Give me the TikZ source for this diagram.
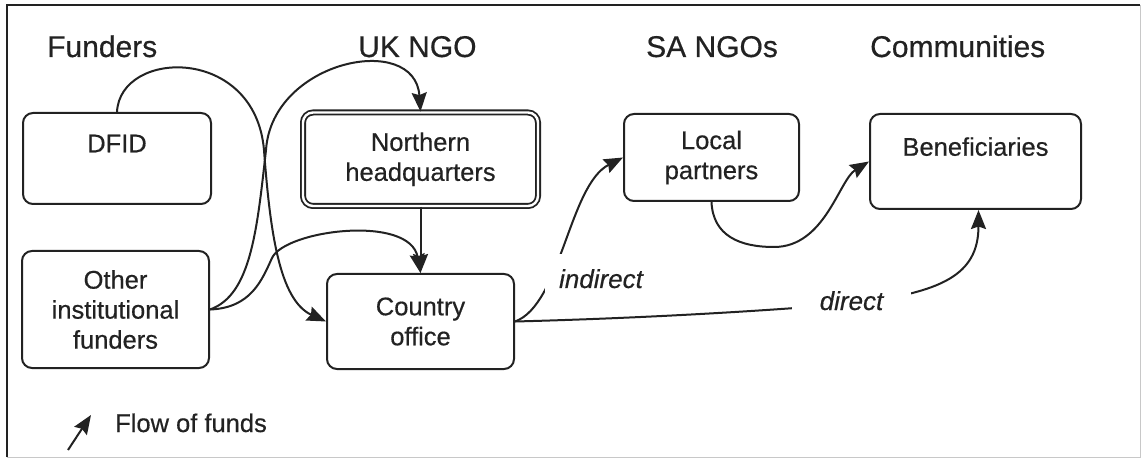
\documentclass[tikz,border=0pt]{standalone}
\usepackage{fontspec}
\setmainfont{Liberation Sans}[FakeBold=0.5]
\usetikzlibrary{arrows.meta}
\definecolor{ink}{HTML}{222222}
\definecolor{faint}{HTML}{C8C8C8}
\begin{document}
\begin{tikzpicture}[x=1pt,y=-1pt,
  box/.style={draw=ink, line width=2pt, rounded corners=10pt, align=center,
    inner sep=0pt, text=ink, font=\fontsize{25.5}{30}\selectfont},
  hqbox/.style={box, double=white, double distance=2.4pt, line width=1.8pt},
  header/.style={anchor=base west, inner sep=0pt, text=ink,
    font=\fontsize{30}{36}\selectfont},
  flowlabel/.style={anchor=base, fill=white, text=ink,
    font=\fontsize{26}{31}\selectfont\itshape},
  flow/.style={draw=ink, line width=2pt,
    -{Stealth[length=19pt,width=15pt,inset=2.5pt]}},
  framedark/.style={draw=ink, line width=1.8pt},
  framelight/.style={draw=faint, line width=1pt}]

\useasboundingbox (0,0) rectangle (1144,465);

% outer frame
\coordinate (ftl) at (7,5);
\coordinate (ftr) at (1140,5);
\coordinate (fbl) at (7,457);
\coordinate (fbr) at (1140,457);
\draw[framelight] (ftr) -- (fbr) -- (fbl);
\draw[framedark] (fbl) -- (ftl) -- (ftr);

% column headings
\node[header] (hfund)   at (47,57)  {Funders};
\node[header] (hukngo)  at (358,57) {UK NGO};
\node[header] (hsangos) at (646,57) {SA NGOs};
\node[header] (hcomm)   at (870,57) {Communities};

% organisations
\node[box, minimum width=188pt, minimum height=91pt] (dfid) at (117,158.5) {DFID\\\mbox{}};
\node[box, minimum width=187pt, minimum height=117pt] (oif) at (115.5,309.5) {Other\\institutional\\funders};
\node[hqbox, minimum width=235pt, minimum height=93.5pt] (nhq) at (420.5,159.25) {Northern\\headquarters};
\node[box, minimum width=187pt, minimum height=95pt] (co) at (420.5,321.5) {Country\\office};
\node[box, minimum width=175pt, minimum height=87pt] (lp) at (711.5,157.5) {Local\\partners};
\node[box, minimum width=211pt, minimum height=95pt] (ben) at (975.5,161.5) {Beneficiaries\\\mbox{}};

% way points of the crossing curves
\coordinate (dx) at (264,150);
\coordinate (ox) at (266,150);
\coordinate (ow) at (272,258);
\coordinate (dw) at (857,303);
\coordinate (lw) at (774,247);

% flows of funds
\draw[flow] (dfid.north) .. controls +(3,-63) and +(-9,-105) .. (dx)
  .. controls +(6,80) and +(-47,-21.5) .. (co.west);
\draw[flow] (oif.east) .. controls +(41,-14.5) and +(-9,80) .. (ox)
  .. controls +(6,-90) and +(-5.5,-80) .. (nhq.north);
\draw[flow] (oif.east) .. controls +(41,-1.5) and +(-10,22) .. (ow)
  .. controls +(13,-28) and +(-10.5,-59) .. (co.north);
\draw[flow] (nhq.south) -- (co.north);
\draw[flow] (co.east) .. controls +(46,-16.5) and +(-54,27.5) .. (lp.west);
\draw[flow] (co.east) .. controls +(136,-3.5) and +(-77,7) .. (dw)
  .. controls +(83,-11) and +(0,66) .. ([xshift=3pt]ben.south);
\draw[flow] (lp.south) .. controls +(1.5,34) and +(-34,0) .. (lw)
  .. controls +(51,0) and +(-30,18.5) .. (ben.west);

% route labels
\node[flowlabel, inner xsep=14pt, inner ysep=15pt] (lind) at (601,288) {indirect};
\node[flowlabel, inner xsep=28pt, inner ysep=5pt] (ldir) at (851.5,310) {direct};

% key
\coordinate (legtail) at (68,450);
\coordinate (leghead) at (91,415);
\draw[flow] (legtail) -- (leghead);
\node[anchor=base west, inner sep=0pt, text=ink, font=\fontsize{25.5}{30}\selectfont] (legtext) at (115,432) {Flow of funds};

\end{tikzpicture}
\end{document}
